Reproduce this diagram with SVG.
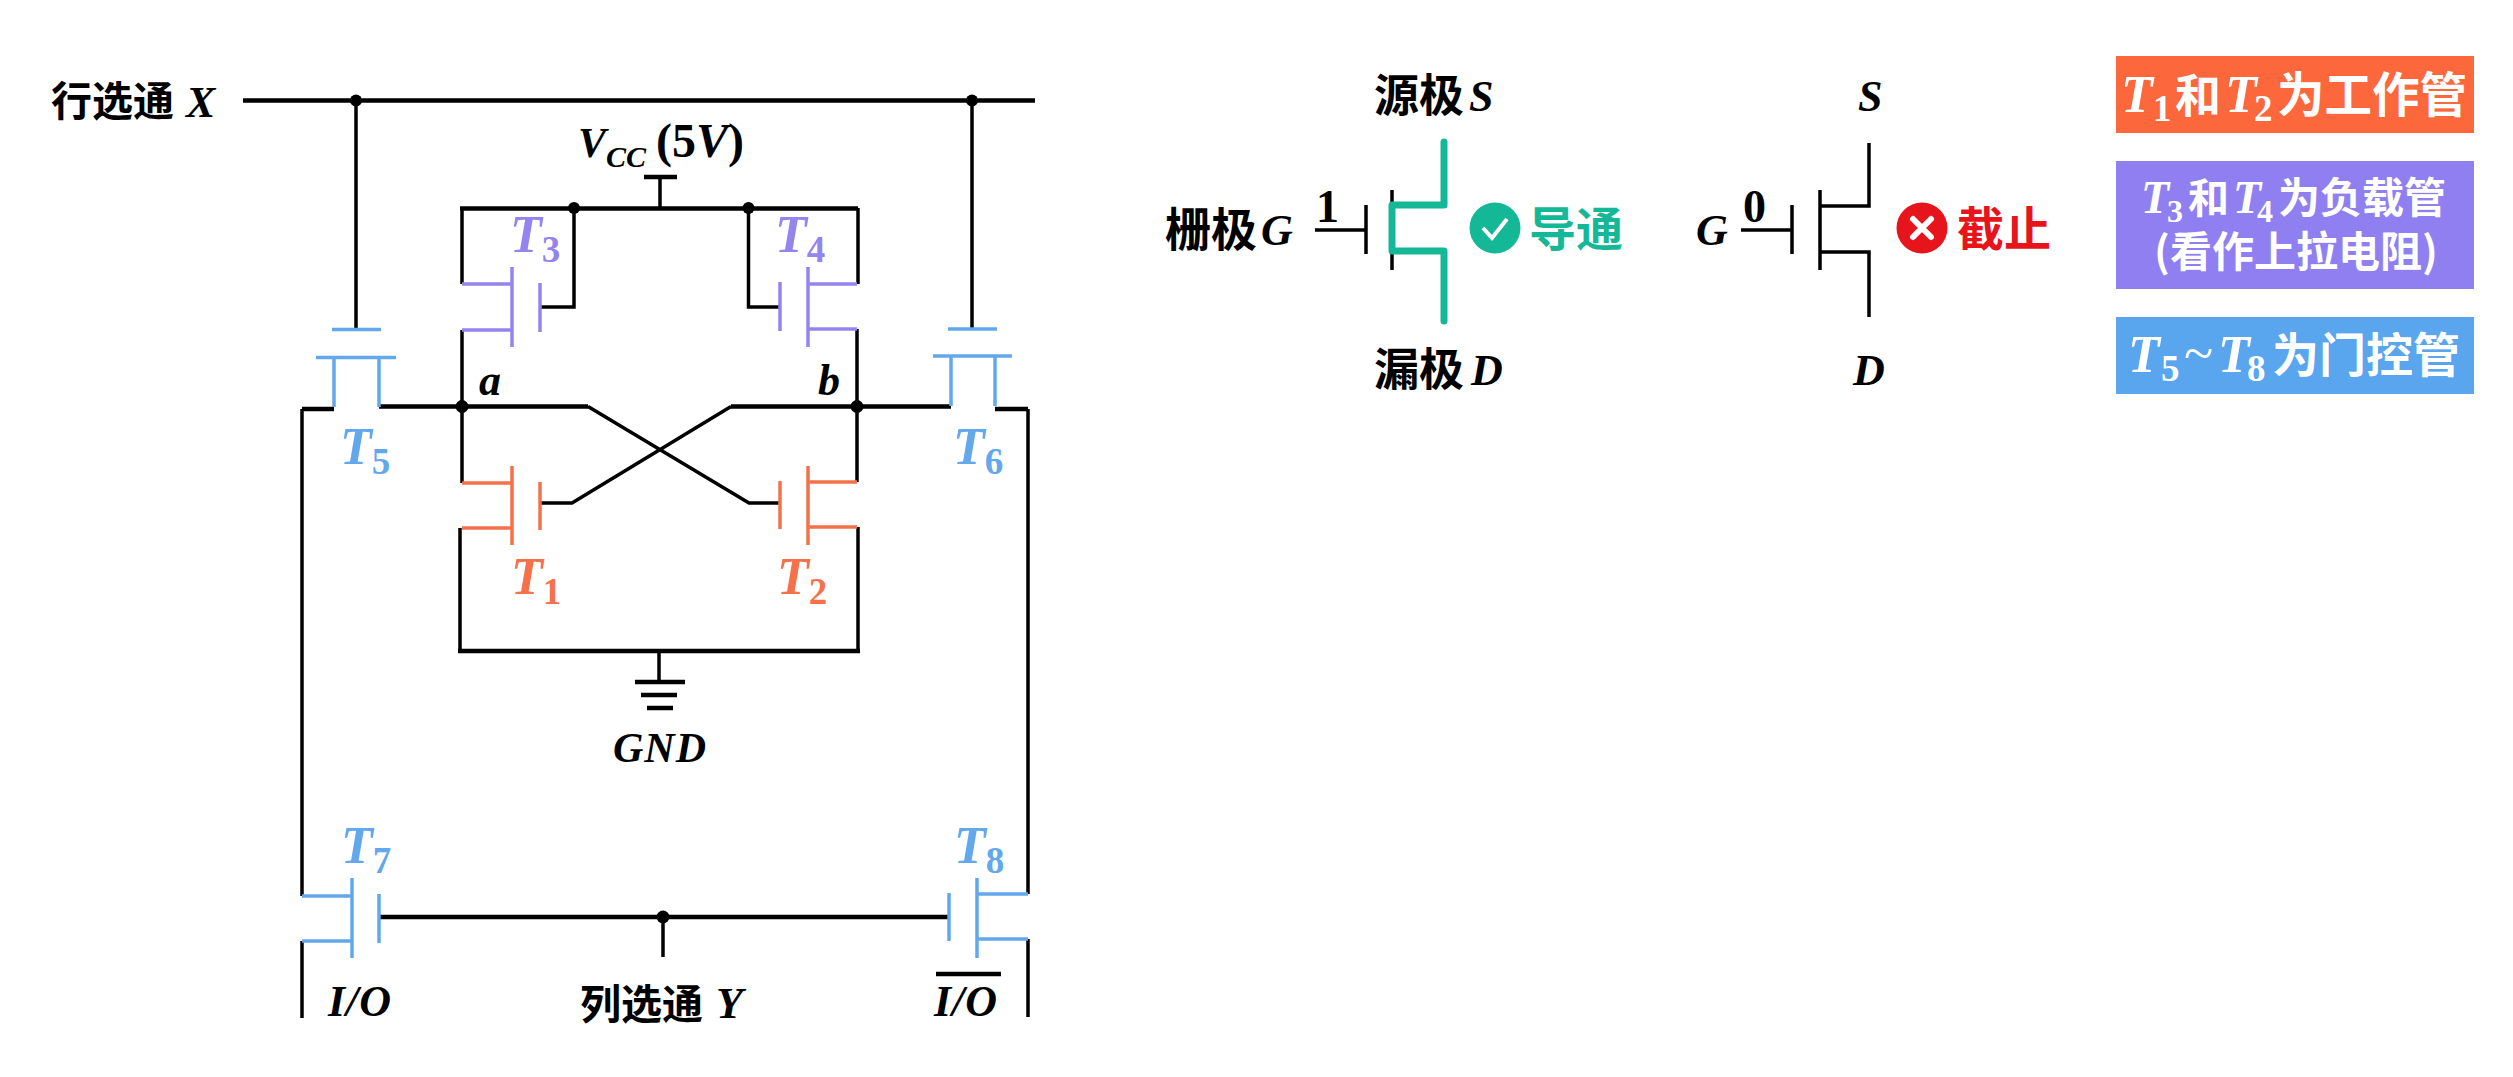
<svg xmlns="http://www.w3.org/2000/svg" width="2513" height="1077" viewBox="0 0 2513 1077">
<style>
.w{fill:none;stroke:#000;stroke-width:3.500}
.h{fill:none;stroke:#000;stroke-width:4.500}
.o{fill:none;stroke:#f4714a;stroke-width:3.500}
.p{fill:none;stroke:#9584ee;stroke-width:3.500}
.b{fill:none;stroke:#63a8ec;stroke-width:3.500}
.g{fill:none;stroke:#14b896;stroke-width:7;stroke-linejoin:round;stroke-linecap:round}
.dot{fill:#000}
text{font-family:"Liberation Serif","Noto Sans CJK SC",serif;font-weight:700;font-style:italic;fill:#000}
.c{font-family:"Noto Sans CJK SC","Noto Sans",sans-serif;font-style:normal}
.m{font-size:44px}
.t{font-size:52px}
.n{font-size:37px;font-style:normal}
.u{font-style:normal}
.to{fill:#f4714a}.tp{fill:#9584ee}.tb{fill:#63a8ec}
.wt{fill:#fff}
</style>
<rect width="2513" height="1077" fill="#fff"/>
<g id="connectors">
<path class="h" d="M243 100.500H1035"/>
<path class="w" d="M356 100V329M972 100V329"/>
<path class="w" d="M660 177V208"/>
<path class="h" d="M460 208.500H858"/>
<path class="w" d="M462 208V284M574 208V307H540M748.500 208V307H780M858 208V284"/>
<path class="w" d="M462 330V483M857 329V482"/>
<path class="h" d="M379 406.500H588M731 406.500H951"/>
<path class="w" d="M588 406.500L749 503H780M731 406.500L572 503H540"/>
<path class="h" d="M334 409H302M995 409H1028"/>
<path class="w" d="M302 409V896M1028 409V894"/>
<path class="w" d="M460 528V651M858 527V651"/>
<path class="h" d="M458 651H860"/>
<path class="w" d="M659 651V682"/>
<path class="h" d="M379 917H949"/>
<path class="w" d="M663 917V957"/>
<path class="w" d="M302 941V1018M1028 939V1017"/>
<circle class="dot" cx="356" cy="100.500" r="6"/>
<circle class="dot" cx="972" cy="100.500" r="6"/>
<circle class="dot" cx="574" cy="208" r="6"/>
<circle class="dot" cx="748.500" cy="208" r="6"/>
<circle class="dot" cx="462" cy="406.500" r="6.500"/>
<circle class="dot" cx="857" cy="406.500" r="6.500"/>
<circle class="dot" cx="663" cy="917" r="6.500"/>
</g>
<g id="row-select"><text class="c" x="51" y="116" font-size="41">行选通</text><text class="m" x="186" y="117">X</text></g>
<g id="vcc">
<path class="h" d="M644 177H677"/>
<text x="578" y="157" font-size="42">V<tspan font-size="30" dy="10">CC</tspan></text>
<text x="656" y="157" font-size="48"><tspan class="u">(5</tspan>V<tspan class="u">)</tspan></text>
</g>
<g id="T1"><path class="o" d="M462 483H512M512 466V545M462 528H512M540 482V530"/><text class="t to" x="511" y="594">T<tspan class="n" dy="10">1</tspan></text></g>
<g id="T2"><path class="o" d="M857 482H808M808 466V545M857 527H808M780 481V529"/><text class="t to" x="777" y="594">T<tspan class="n" dy="10">2</tspan></text></g>
<g id="T3"><path class="p" d="M462 284H512M512 267V347M462 330H512M540 283V332"/><text class="t tp" x="510" y="252">T<tspan class="n" dy="10">3</tspan></text></g>
<g id="T4"><path class="p" d="M857 284H808M808 267V347M857 329H808M780 282V331"/><text class="t tp" x="775" y="252">T<tspan class="n" dy="10">4</tspan></text></g>
<g id="T5"><path class="b" d="M332 329.500H381M316 357.500H396M334 357.500V407M379 357.500V407"/><text class="t tb" x="340" y="464">T<tspan class="n" dy="10">5</tspan></text></g>
<g id="T6"><path class="b" d="M948 329H997M933 356H1012M951 356V406M995 356V406"/><text class="t tb" x="953" y="464">T<tspan class="n" dy="10">6</tspan></text></g>
<g id="T7"><path class="b" d="M302 896H352M352 878V958M302 941H352M379 894V943"/><text class="t tb" x="341" y="863">T<tspan class="n" dy="10">7</tspan></text></g>
<g id="T8"><path class="b" d="M1028 894H977M977 878V958M1028 939H977M949 893V941"/><text class="t tb" x="954" y="863">T<tspan class="n" dy="10">8</tspan></text></g>
<g id="node-a"><text class="m" x="479" y="395">a</text></g>
<g id="node-b"><text class="m" x="818" y="395">b</text></g>
<g id="gnd">
<path class="h" d="M635 682H685M641 695H677M647 708H673"/>
<text class="m" x="660" y="762" text-anchor="middle" style="font-size:42px" letter-spacing="1">GND</text>
</g>
<g id="io"><text class="m" x="328" y="1016" letter-spacing="1">I/O</text></g>
<g id="io-bar"><path class="h" d="M936 974H1001"/><text class="m" x="934" y="1016" letter-spacing="1">I/O</text></g>
<g id="col-select"><text class="c" x="580" y="1019" font-size="41">列选通</text><text class="m" x="716" y="1018">Y</text></g>
<g id="on-transistor">
<path class="w" d="M1315 230H1366M1366 205V254M1392 190V270"/>
<path class="g" d="M1444 142V205H1392V251H1444V321"/>
<text class="c" x="1374" y="112" font-size="45">源极</text><text font-size="44" x="1469" y="111">S</text>
<text class="c" x="1165" y="246" font-size="46">栅极</text><text font-size="44" x="1261" y="245">G</text>
<text class="c" x="1374" y="386" font-size="45">漏极</text><text font-size="44" x="1471" y="385">D</text>
<text font-size="46" x="1316" y="222"><tspan class="u">1</tspan></text>
<circle cx="1495" cy="228" r="25.500" fill="#14b896"/>
<path d="M1483 228L1492 238L1507 219" fill="none" stroke="#fff" stroke-width="4"/>
<text class="c" x="1529" y="246" font-size="47" style="fill:#14b896">导通</text>
</g>
<g id="off-transistor">
<path class="w" d="M1741 230H1792M1792 205V254M1820 190V270M1869 143V206H1820M1820 252H1869V317"/>
<text font-size="44" x="1858" y="111">S</text>
<text font-size="44" x="1696" y="245">G</text>
<text font-size="44" x="1853" y="385">D</text>
<text font-size="46" x="1743" y="222"><tspan class="u">0</tspan></text>
<circle cx="1922" cy="228" r="25.500" fill="#e8141c"/>
<path d="M1913 219L1931 237M1931 219L1913 237" fill="none" stroke="#fff" stroke-width="6" stroke-linecap="round"/>
<text class="c" x="1957" y="246" font-size="47" style="fill:#e8141c">截止</text>
</g>
<g id="legend-work">
<rect x="2116" y="56" width="358" height="77" fill="#fd673c"/>
<text class="wt t" x="2121" y="112">T</text><text class="wt n" x="2153" y="121">1</text>
<text class="c wt" x="2175" y="112" font-size="46">和</text>
<text class="wt t" x="2225" y="112">T</text><text class="wt n" x="2254" y="121">2</text>
<text class="c wt" x="2277" y="112" font-size="47.500">为工作管</text>
</g>
<g id="legend-load">
<rect x="2116" y="161" width="358" height="128" fill="#8f7ff0"/>
<text class="wt" font-size="46" x="2141" y="213">T</text><text class="wt n" x="2167" y="222" style="font-size:32px">3</text>
<text class="c wt" x="2188" y="213" font-size="41">和</text>
<text class="wt" font-size="46" x="2233" y="213">T</text><text class="wt n" x="2257" y="222" style="font-size:32px">4</text>
<text class="c wt" x="2278" y="213" font-size="42">为负载管</text>
<text class="c wt" x="2296" y="267" font-size="42" text-anchor="middle">(看作上拉电阻)</text>
</g>
<g id="legend-gate">
<rect x="2116" y="317" width="358" height="77" fill="#59a5ee"/>
<text class="wt t" x="2128" y="372">T</text><text class="wt n" x="2161" y="381">5</text>
<text class="wt u" x="2184" y="372" font-size="54" style="font-weight:400">~</text>
<text class="wt t" x="2218" y="372">T</text><text class="wt n" x="2247" y="381">8</text>
<text class="c wt" x="2272" y="372" font-size="47">为门控管</text>
</g>
</svg>
